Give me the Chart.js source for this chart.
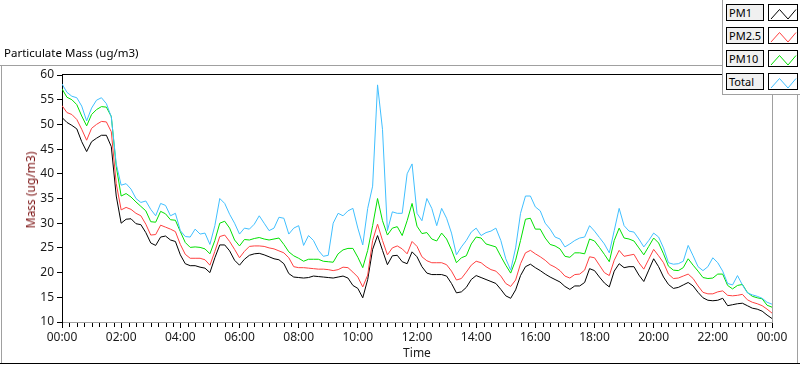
<!DOCTYPE html>
<html>
<head>
<meta charset="utf-8">
<script src="https://cdn.jsdelivr.net/npm/chart.js@4.4.1/dist/chart.umd.min.js"></script>
<style>
  html, body { margin: 0; padding: 0; background: #fff; }
  #wrap { position: relative; width: 800px; height: 365px; overflow: hidden; font-family: "Noto Sans", sans-serif; }
  #grafico { position: absolute; left: 0; top: 0; }
  #titolo { position: absolute; left: 4px; top: 46px; font-size: 11.5px; line-height: 14px; color: #000; white-space: nowrap; }
  #etichettaY { position: absolute; left: 31px; top: 190px; font-size: 12px; line-height: 14px; color: #7a1010;
    white-space: nowrap; transform: translate(-50%, -50%) rotate(-90deg); }
  #legenda { position: absolute; left: 722px; top: 0; width: 78px; height: 95px; background: #fff;
    border-left: 1px solid #a0a0a0; border-bottom: 1px solid #a0a0a0; box-sizing: border-box; }
  .voce { position: absolute; left: 3px; height: 17px; width: 72px; }
  .nome { position: absolute; left: 0; top: 0; width: 38px; height: 17px; box-sizing: border-box; border: 1px solid #000;
    background: #f0f0f0; font-size: 11px; line-height: 15px; padding-left: 2px; color: #000; white-space: nowrap; }
  .campione { position: absolute; left: 42px; top: 0; width: 30px; height: 17px; box-sizing: border-box; border: 1px solid #000; background: #fff; }
  .campione svg { position: absolute; left: 0; top: 0; }
</style>
</head>
<body>
<div id="wrap">
  <canvas id="grafico" width="800" height="365"></canvas>
  <div id="titolo">Particulate Mass (ug/m3)</div>
  <div id="etichettaY">Mass (ug/m3)</div>
  <div id="legenda"></div>
</div>
<script>
// serie ogni 10 minuti, da 00:00 a 24:00
const nomiSerie = ["PM1", "PM2.5", "PM10", "Total"];
const coloriSerie = ["#000000", "#ff4040", "#00e000", "#40bfff"];
const tickOre = ["00:00", "02:00", "04:00", "06:00", "08:00", "10:00", "12:00", "14:00", "16:00", "18:00", "20:00", "22:00", "00:00"];

const pm1 = [
  51.4, 50.4, 49.8, 49.1, 46.5, 44.5, 46.5, 47.2, 47.8, 47.8, 45.5, 35.5, 30.0, 30.8, 30.9, 29.9, 29.7, 28.1, 26.0, 25.5,
  27.2, 27.4, 26.6, 26.3, 23.6, 21.8, 21.4, 21.4, 21.1, 20.9, 20.0, 23.0, 25.6, 25.6, 24.4, 22.5, 21.5,
  22.7, 23.5, 23.8, 23.9, 23.6, 23.2, 22.8, 22.6, 21.8, 19.8, 19.1, 19.0, 18.9, 19.0, 19.3, 19.2, 19.1, 19.0, 18.9,
  19.1, 19.3, 18.9, 17.4, 16.8, 14.9, 18.6, 24.7, 27.5, 24.5, 21.6, 23.4, 23.5, 22.2, 21.8, 24.2, 23.2,
  21.2, 19.9, 19.6, 19.6, 19.6, 19.3, 17.8, 15.9, 16.1, 17.0, 18.6, 19.4, 19.0, 18.6, 18.2, 17.8, 16.6, 15.3, 14.8,
  16.5, 19.4, 21.2, 21.7, 21.0, 20.4, 19.7, 19.1, 18.6, 18.1, 17.2, 16.6, 17.3, 17.3, 18.0, 20.8, 20.4,
  19.1, 17.9, 17.1, 20.3, 21.8, 21.0, 21.2, 21.2, 19.5, 18.2, 20.5, 22.8, 21.2, 19.1, 17.6, 16.8, 17.0, 17.5, 18.0,
  17.3, 16.0, 14.9, 14.4, 14.3, 14.4, 14.8, 13.3, 13.5, 13.7, 13.8, 13.3, 12.8, 12.6, 12.2, 11.4, 10.7
];
const pm25 = [
  53.8, 52.4, 52.0, 51.0, 49.0, 46.8, 49.2, 50.0, 50.6, 50.5, 48.5, 38.0, 32.7, 33.2, 32.8, 32.0, 31.5, 29.8, 27.6, 27.7,
  29.6, 29.2, 28.8, 28.3, 25.7, 23.7, 22.9, 22.9, 22.9, 22.6, 21.5, 24.3, 27.3, 27.6, 26.3, 24.7, 23.0,
  24.3, 25.3, 25.4, 25.4, 25.3, 25.0, 24.8, 24.4, 24.0, 23.0, 21.2, 21.0, 21.0, 20.9, 20.8, 20.7, 20.7, 20.6, 20.4,
  20.6, 21.1, 21.0, 20.1, 19.1, 17.1, 19.5, 26.5, 29.8, 26.5, 23.6, 25.0, 25.4, 24.8, 23.8, 26.3, 25.3,
  23.2, 22.4, 22.0, 22.0, 22.0, 21.6, 20.3, 18.5, 18.8, 20.1, 21.5, 22.3, 22.0, 21.2, 20.6, 20.3, 19.3, 17.8, 17.2,
  18.5, 21.8, 24.0, 24.5, 23.8, 23.2, 22.5, 21.6, 21.1, 20.4, 19.3, 18.9, 19.6, 19.7, 20.5, 23.2, 23.0,
  21.5, 20.0, 19.4, 22.5, 24.5, 23.3, 23.5, 23.7, 22.0, 20.7, 22.7, 24.7, 23.4, 22.0, 19.7, 18.8, 18.9, 19.3, 19.7,
  18.8, 17.3, 16.0, 15.7, 15.7, 16.1, 16.3, 15.4, 15.3, 15.4, 15.6, 14.5, 14.0, 13.7, 13.3, 12.6, 11.8
];
const pm10 = [
  57.2, 55.5, 55.0, 54.0, 51.7, 49.7, 52.0, 53.0, 53.6, 53.5, 51.6, 41.5, 35.5, 36.0, 35.3, 34.3, 33.4, 32.5, 30.3, 30.2,
  32.4, 31.9, 30.7, 30.6, 28.3, 26.1, 25.1, 25.2, 25.1, 24.8, 23.8, 26.5, 30.0, 30.4, 29.0, 26.6, 25.4,
  26.7, 26.6, 26.9, 27.1, 26.8, 26.6, 26.8, 27.0, 25.7, 24.2, 23.4, 22.9, 22.3, 22.7, 22.7, 22.7, 22.3, 22.2, 22.1,
  23.8, 24.6, 24.9, 24.9, 23.1, 21.0, 24.5, 29.5, 35.0, 30.5, 27.6, 29.0, 29.3, 27.5, 30.5, 34.0, 29.4,
  27.9, 28.1, 26.8, 26.4, 28.0, 26.8, 24.6, 22.0, 23.0, 23.4, 25.8, 27.2, 27.0, 25.8, 25.5, 25.2, 23.3, 21.5, 19.9,
  22.5, 26.5, 30.8, 31.0, 28.8, 28.8, 27.0, 25.7, 25.4, 24.8, 23.3, 23.1, 24.0, 24.0, 23.8, 26.8, 26.4,
  25.1, 23.7, 22.2, 26.5, 29.0, 27.0, 26.8, 26.4, 25.0, 23.6, 25.3, 27.0, 26.0, 23.8, 21.3, 20.5, 20.4, 21.0, 22.8,
  21.5, 20.3, 19.0, 18.8, 18.9, 19.7, 19.7, 17.4, 16.7, 17.4, 17.6, 16.0, 15.2, 14.9, 14.7, 13.4, 13.0
];
const totale = [
  58.2, 56.5, 55.7, 55.4, 53.7, 50.7, 53.3, 54.9, 55.4, 54.2, 51.5, 42.0, 37.7, 38.0, 36.9, 35.0, 34.2, 34.5, 32.8, 31.5,
  34.0, 33.6, 31.5, 32.0, 28.5, 27.3, 27.2, 28.8, 27.8, 28.0, 25.7, 29.5, 35.0, 34.0, 31.8, 30.0, 27.8,
  29.0, 28.8, 29.8, 31.5, 30.0, 28.5, 29.0, 31.2, 31.0, 27.8, 29.0, 29.5, 25.5, 27.5, 26.5, 24.5, 23.3, 23.5, 30.0,
  32.0, 31.5, 32.5, 33.0, 29.0, 25.6, 33.0, 37.5, 58.0, 49.0, 28.5, 32.3, 32.0, 32.0, 40.0, 42.0, 32.0,
  30.5, 35.0, 33.0, 29.5, 33.0, 31.0, 28.0, 23.6, 25.2, 26.5, 28.2, 29.0, 27.5, 28.1, 28.4, 29.0, 26.5, 22.8, 20.5,
  25.0, 32.0, 35.5, 35.5, 33.3, 32.5, 30.0, 28.8, 27.2, 26.8, 25.2, 25.8, 26.5, 27.0, 27.2, 29.5, 28.4,
  27.1, 25.8, 24.0, 28.5, 33.0, 29.5, 28.4, 28.2, 26.8, 25.2, 26.5, 28.0, 27.2, 25.0, 22.0, 21.7, 21.8, 22.3, 25.5,
  23.4, 21.2, 20.4, 21.2, 23.0, 22.0, 20.3, 17.8, 17.5, 19.4, 17.5, 15.9, 15.5, 15.2, 14.8, 14.0, 13.6
];

// minuti dall'inizio della giornata per ogni campione
const minuti = pm1.map((_, i) => i * 10);

function punti(valori) {
  return valori.map((v, i) => ({ x: minuti[i], y: v }));
}

// cornice stile pannello, tacche minori ogni 15 minuti
const cornice = {
  id: 'cornice',
  afterDraw(chart) {
    const ctx = chart.ctx;
    const a = chart.chartArea;
    const sx = chart.scales.x;
    ctx.save();
    ctx.lineWidth = 1;
    ctx.strokeStyle = '#a0a0a0';
    ctx.beginPath();
    ctx.moveTo(0, 65.5); ctx.lineTo(722, 65.5);
    ctx.moveTo(1.5, 65); ctx.lineTo(1.5, 364);
    ctx.moveTo(797.5, 95); ctx.lineTo(797.5, 364);
    ctx.moveTo(Math.round(a.right) + 0.5, a.top - 1); ctx.lineTo(Math.round(a.right) + 0.5, a.bottom);
    ctx.stroke();
    ctx.strokeStyle = '#000';
    ctx.beginPath();
    ctx.moveTo(0, 363.5); ctx.lineTo(800, 363.5);
    ctx.moveTo(Math.round(a.left), 74.5); ctx.lineTo(722, 74.5);
    ctx.stroke();
    ctx.beginPath();
    for (let m = 15; m < 1440; m += 15) {
      if (m % 120 === 0) continue;
      const px = Math.round(sx.getPixelForValue(m)) + 0.5;
      ctx.moveTo(px, a.bottom + 1);
      ctx.lineTo(px, a.bottom + 5);
    }
    ctx.stroke();
    ctx.restore();
  }
};

const ctx = document.getElementById('grafico').getContext('2d');
const grafico = new Chart(ctx, {
  type: 'line',
  data: {
    datasets: [
      { label: nomiSerie[3], data: punti(totale), borderColor: coloriSerie[3], order: 0 },
      { label: nomiSerie[2], data: punti(pm10), borderColor: coloriSerie[2], order: 1 },
      { label: nomiSerie[1], data: punti(pm25), borderColor: coloriSerie[1], order: 2 },
      { label: nomiSerie[0], data: punti(pm1), borderColor: coloriSerie[0], order: 3 }
    ]
  },
  options: {
    responsive: false,
    animation: false,
    events: [],
    layout: { padding: { top: 75, right: 28, bottom: 0, left: 0 } },
    elements: {
      line: { borderWidth: 1, tension: 0, fill: false },
      point: { radius: 0 }
    },
    plugins: {
      legend: { display: false },
      title: { display: false },
      tooltip: { enabled: false }
    },
    scales: {
      x: {
        type: 'linear',
        min: 0,
        max: 1440,
        afterFit(scala) { scala.height = 43; },
        afterBuildTicks(scala) {
          scala.ticks = tickOre.map((_, i) => ({ value: i * 120 }));
        },
        ticks: {
          autoSkip: false,
          maxRotation: 0,
          padding: 2,
          color: '#1a1a1a',
          font: { family: 'Noto Sans', size: 12 },
          callback: (v, i) => tickOre[i]
        },
        grid: { drawOnChartArea: false, tickLength: 6, color: '#000' },
        border: { display: true, color: '#a0a0a0' },
        title: {
          display: true,
          text: 'Time',
          color: '#1a1a1a',
          font: { family: 'Noto Sans', size: 12 },
          padding: { top: 0, bottom: 4 }
        }
      },
      y: {
        min: 10,
        max: 60,
        afterFit(scala) { scala.width = 62; },
        ticks: {
          stepSize: 5,
          padding: 3,
          color: '#1a1a1a',
          font: { family: 'Noto Sans', size: 12 }
        },
        grid: { drawOnChartArea: false, tickLength: 5, color: '#000' },
        border: { display: true, color: '#000' }
      }
    }
  },
  plugins: [cornice]
});

// legenda in stile LabVIEW
const legenda = document.getElementById('legenda');
nomiSerie.forEach((nome, i) => {
  const voce = document.createElement('div');
  voce.className = 'voce';
  voce.style.top = (4 + i * 23) + 'px';
  voce.innerHTML =
    '<div class="nome">' + nome + '</div>' +
    '<div class="campione"><svg width="30" height="17"><polyline points="2,14 10.5,4.5 19,14 27,4.5" fill="none" stroke="' +
    coloriSerie[i] + '" stroke-width="1"/></svg></div>';
  legenda.appendChild(voce);
});
</script>
</body>
</html>
